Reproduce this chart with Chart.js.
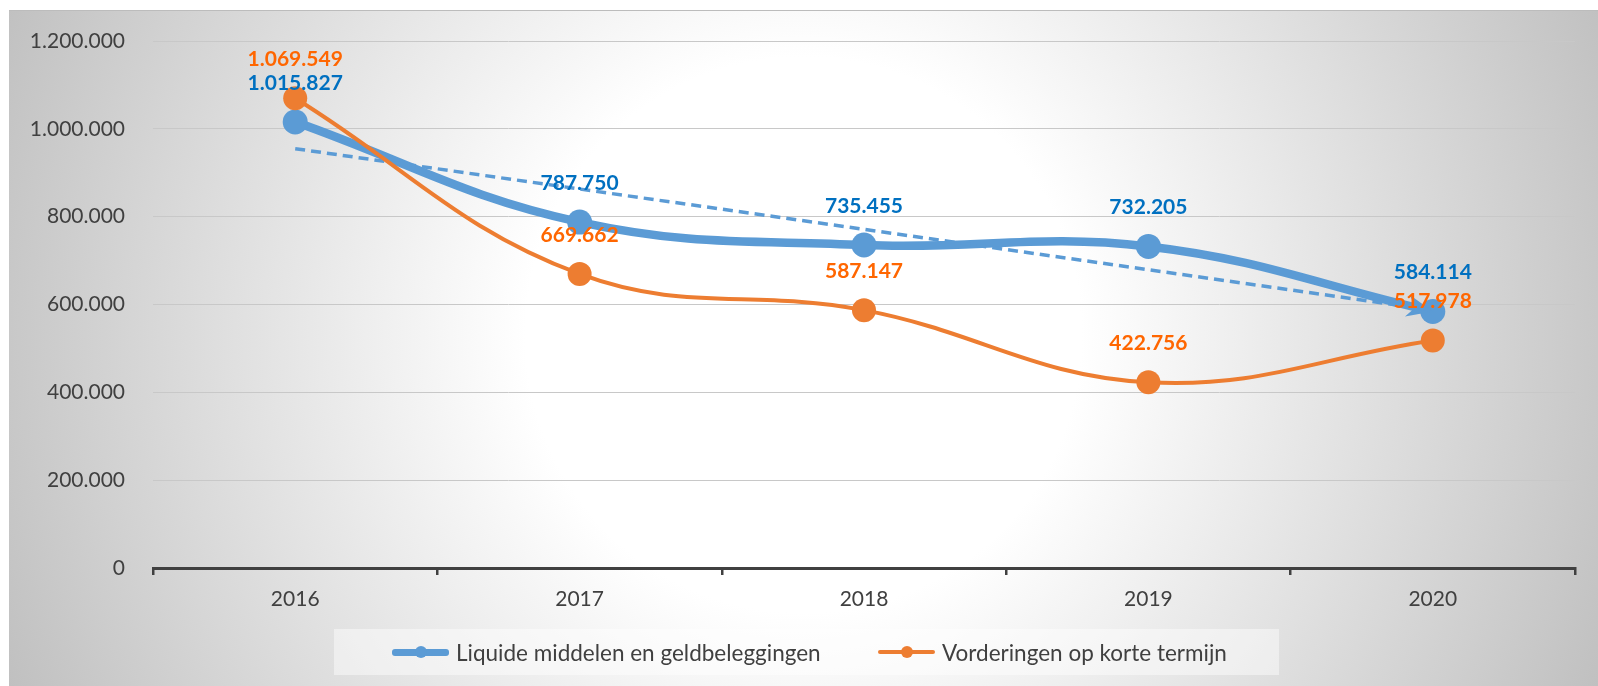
<!DOCTYPE html>
<html>
<head>
<meta charset="utf-8">
<script src="https://cdn.jsdelivr.net/npm/chart.js"></script>
<style>
  body { margin: 0; background: #fff; width: 1598px; height: 686px; overflow: hidden; position: relative; }
  #bg {
    position: absolute; left: 9px; top: 10px; width: 1589px; height: 676px;
    border-top: 1px solid #bcbcbc; box-sizing: border-box;
    background: radial-gradient(circle farthest-corner at 50% 48%, #ffffff 0%, #ffffff 32%, #c0c0c0 100%);
  }
  #chart { position: absolute; left: 0; top: 0; }
  #legend {
    position: absolute; left: 334px; top: 629px; width: 945px; height: 46px;
    background: rgba(255, 255, 255, 0.45);
    font-family: Lato, sans-serif; font-size: 22.5px; color: #404040;
  }
  .item { position: absolute; top: 0; height: 46px; display: flex; align-items: center; }
  .icon { position: relative; width: 57px; margin-right: 7px; }
  .icon .ln { position: absolute; left: 0; right: 0; top: 50%; border-radius: 3px; }
  .icon .dot { position: absolute; left: 50%; top: 50%; width: 12px; height: 12px; margin: -6px 0 0 -6px; border-radius: 50%; }
</style>
</head>
<body>
<div id="bg"></div>
<canvas id="chart" width="1598" height="686"></canvas>
<div id="legend">
  <div class="item" style="left:58px">
    <span class="icon"><span class="ln" style="height:7px;margin-top:-3.5px;background:#5B9BD5"></span><span class="dot" style="background:#5B9BD5"></span></span>
    <span>Liquide middelen en geldbeleggingen</span>
  </div>
  <div class="item" style="left:544px">
    <span class="icon"><span class="ln" style="height:4px;margin-top:-2px;background:#ED7D31"></span><span class="dot" style="background:#ED7D31"></span></span>
    <span>Vorderingen op korte termijn</span>
  </div>
</div>
<script>
const years = ['2016', '2017', '2018', '2019', '2020'];
const liquide = [1015827, 787750, 735455, 732205, 584114];
const vorderingen = [1069549, 669662, 587147, 422756, 517978];
const yMax = 1200000;
const yStep = 200000;

// dutch thousands separator
function nl(n) {
    return String(n).replace(/\B(?=(\d{3})+(?!\d))/g, '.');
}

// linear trendline (least squares) for the liquide series, like Excel does
function trend(values) {
    const n = values.length;
    const mx = (n - 1) / 2;
    const my = values.reduce((a, b) => a + b, 0) / n;
    let sxy = 0, sxx = 0;
    values.forEach((v, i) => { sxy += (i - mx) * (v - my); sxx += (i - mx) * (i - mx); });
    const slope = sxy / sxx;
    return values.map((v, i) => my + slope * (i - mx));
}

const labelPlugin = {
    id: 'labels',
    afterDatasetsDraw(chart) {
        const ctx = chart.ctx;
        ctx.save();
        ctx.font = 'bold 21px Lato';
        ctx.textAlign = 'center';
        ctx.textBaseline = 'middle';
        chart.data.datasets.forEach((ds, i) => {
            if (!ds.labelColor) return;
            const meta = chart.getDatasetMeta(i);
            meta.data.forEach((pt, j) => {
                ctx.fillStyle = ds.labelColor;
                ctx.fillText(nl(ds.data[j]), pt.x, pt.y - 39);
            });
        });
        ctx.restore();
    }
};

// arrow head at the end of the blue line
const arrowPlugin = {
    id: 'arrow',
    afterDatasetDraw(chart, args) {
        const ds = chart.data.datasets[args.index];
        if (!ds.endArrow) return;
        const pts = args.meta.data;
        const p = pts[pts.length - 1];
        let dx = p.x - p.cp1x, dy = p.y - p.cp1y;
        const len = Math.hypot(dx, dy) || 1;
        dx /= len; dy /= len;
        const ctx = chart.ctx;
        ctx.save();
        ctx.fillStyle = ds.borderColor;
        ctx.beginPath();
        ctx.moveTo(p.x, p.y);
        ctx.lineTo(p.x - dx * 26 - dy * 11, p.y - dy * 26 + dx * 11);
        ctx.lineTo(p.x - dx * 18, p.y - dy * 18);
        ctx.lineTo(p.x - dx * 26 + dy * 11, p.y - dy * 26 - dx * 11);
        ctx.closePath();
        ctx.fill();
        ctx.restore();
    }
};

const ctx = document.getElementById('chart').getContext('2d');
const chart = new Chart(ctx, {
    type: 'line',
    data: {
        labels: years,
        datasets: [{
            label: 'Vorderingen op korte termijn',
            data: vorderingen,
            borderColor: '#ED7D31',
            backgroundColor: '#ED7D31',
            borderWidth: 4,
            pointRadius: 12,
            pointHoverRadius: 12,
            pointBorderWidth: 0,
            tension: 0.4,
            labelColor: '#FF6600',
            order: 0
        }, {
            label: 'Trend',
            data: trend(liquide),
            borderColor: '#5B9BD5',
            borderWidth: 3.5,
            borderDash: [10, 6],
            pointRadius: 0,
            tension: 0,
            order: 1
        }, {
            label: 'Liquide middelen en geldbeleggingen',
            data: liquide,
            borderColor: '#5B9BD5',
            backgroundColor: '#5B9BD5',
            borderWidth: 8.5,
            pointRadius: 12.5,
            pointHoverRadius: 12.5,
            pointBorderWidth: 0,
            tension: 0.4,
            labelColor: '#0070C0',
            endArrow: true,
            order: 2
        }]
    },
    options: {
        responsive: false,
        animation: false,
        layout: { padding: { top: 41, right: 23, left: 0, bottom: 0 } },
        plugins: {
            legend: { display: false },
            tooltip: { enabled: false }
        },
        scales: {
            x: {
                offset: true,
                afterFit: s => { s.height = 118; },
                grid: { drawOnChartArea: false, offset: true, tickLength: 7, color: '#404040', lineWidth: 2.5 },
                border: { color: '#404040', width: 3 },
                ticks: { font: { family: 'Lato', size: 21 }, color: '#404040', padding: 12 }
            },
            y: {
                min: 0,
                max: yMax,
                afterFit: s => { s.width = 153; },
                grid: { color: '#c8c8c8', lineWidth: 1, drawTicks: false },
                border: { display: false },
                ticks: {
                    stepSize: yStep,
                    padding: 28,
                    font: { family: 'Lato', size: 21 },
                    color: '#404040',
                    callback: v => nl(v)
                }
            }
        }
    },
    plugins: [labelPlugin, arrowPlugin]
});
</script>
</body>
</html>
